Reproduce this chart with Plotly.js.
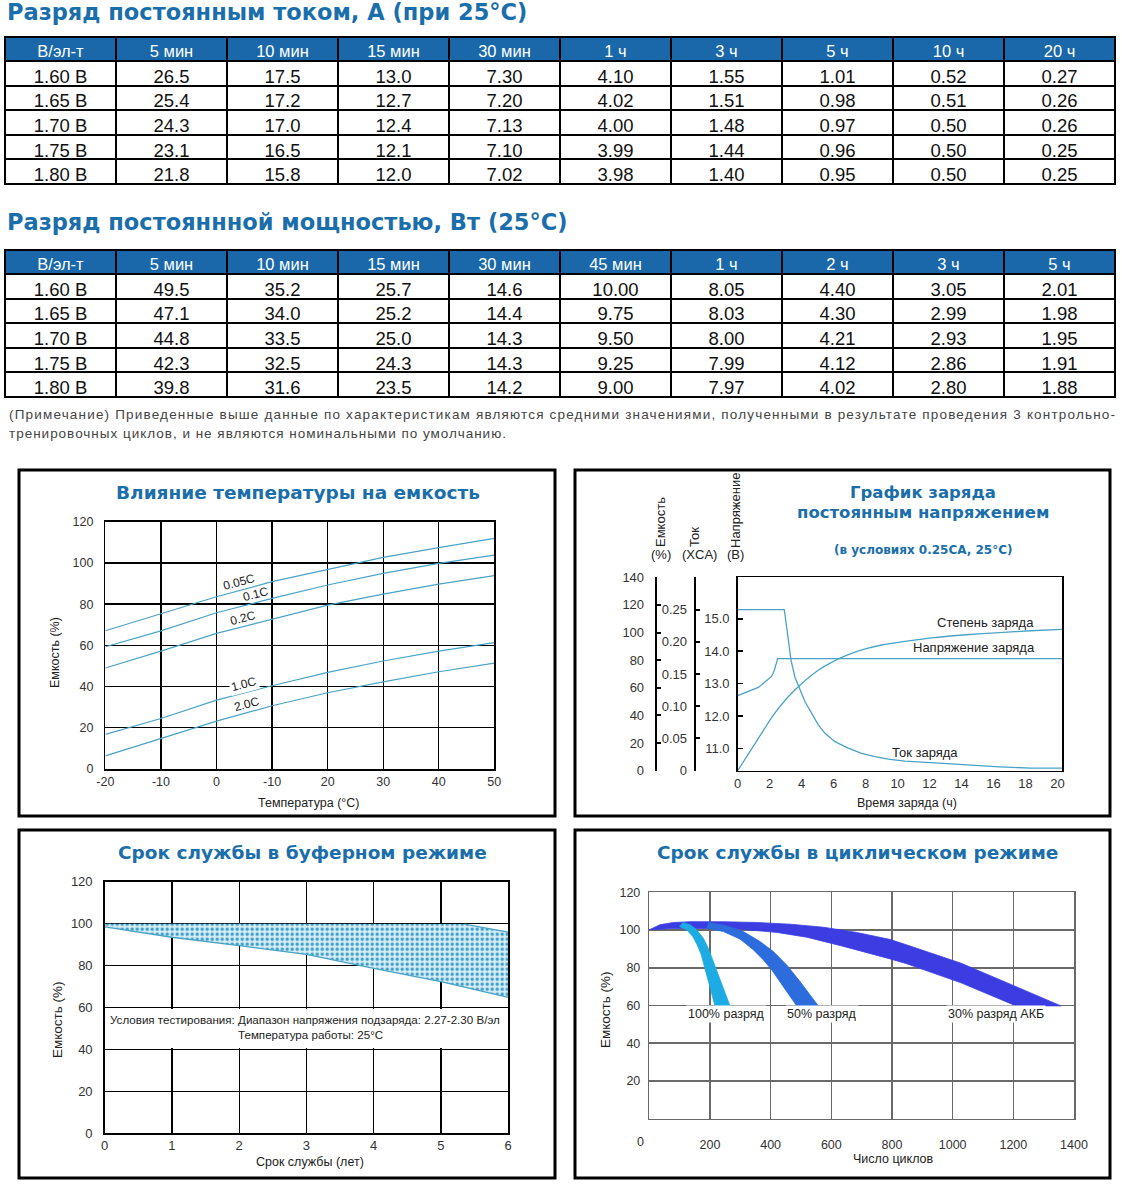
<!DOCTYPE html>
<html><head><meta charset="utf-8">
<script src="https://cdn.plot.ly/plotly-3.0.1.min.js"></script>
<style>html,body{margin:0;padding:0;background:#fff;}#chart{width:1122px;height:1191px;}</style>
</head><body><div id="chart"></div>
<script>
// ---------- DATA ----------
// Table 1: constant current discharge, A (25°C)
const table1Header = ['В/эл-т','5 мин','10 мин','15 мин','30 мин','1 ч','3 ч','5 ч','10 ч','20 ч'];
const voltRows = ['1.60 В','1.65 В','1.70 В','1.75 В','1.80 В'];
const cc_5min  = [26.5,25.4,24.3,23.1,21.8];
const cc_10min = [17.5,17.2,17.0,16.5,15.8];
const cc_15min = [13.0,12.7,12.4,12.1,12.0];
const cc_30min = [7.30,7.20,7.13,7.10,7.02];
const cc_1h    = [4.10,4.02,4.00,3.99,3.98];
const cc_3h    = [1.55,1.51,1.48,1.44,1.40];
const cc_5h    = [1.01,0.98,0.97,0.96,0.95];
const cc_10h   = [0.52,0.51,0.50,0.50,0.50];
const cc_20h   = [0.27,0.26,0.26,0.25,0.25];
// Table 2: constant power discharge, W (25°C)
const table2Header = ['В/эл-т','5 мин','10 мин','15 мин','30 мин','45 мин','1 ч','2 ч','3 ч','5 ч'];
const cp_5min  = [49.5,47.1,44.8,42.3,39.8];
const cp_10min = [35.2,34.0,33.5,32.5,31.6];
const cp_15min = [25.7,25.2,25.0,24.3,23.5];
const cp_30min = [14.6,14.4,14.3,14.3,14.2];
const cp_45min = [10.00,9.75,9.50,9.25,9.00];
const cp_1h    = [8.05,8.03,8.00,7.99,7.97];
const cp_2h    = [4.40,4.30,4.21,4.12,4.02];
const cp_3h    = [3.05,2.99,2.93,2.86,2.80];
const cp_5h    = [2.01,1.98,1.95,1.91,1.88];

// Chart 1: temperature vs capacity
const tempC = [-20,-10,0,10,20,30,40,50];
const tempTickText = ['-20','-10','0','-10','20','30','40','50'];
const cap005C = [67.1,75.2,83.6,90.9,96.9,102.7,107.4,111.9];
const cap01C  = [59.3,67.0,75.8,82.8,89.3,94.9,99.8,103.8];
const cap02C  = [49.0,57.2,65.8,72.8,79.5,84.9,89.7,93.8];
const cap10C  = [16.8,24.5,33.4,40.4,46.9,52.4,57.2,61.3];
const cap20C  = [6.4,14.8,23.2,30.7,37.0,42.3,47.2,51.4];

// Chart 2: constant voltage charge
const timeCurrent = [0,2.91,3.06,3.21,3.33,3.58,3.89,4.21,4.63,5.04,5.46,6.08,6.91,7.75,8.58,9.41,10.46,12.29,14.28,16.37,18.33,20.28];
const chargeCurrent = [0.25,0.25,0.223,0.192,0.172,0.145,0.127,0.107,0.089,0.071,0.058,0.045,0.035,0.027,0.022,0.018,0.015,0.012,0.009,0.006,0.004,0.004];
const timeVoltage = [0,1.29,2.12,2.29,2.5,20.28];
const chargeVoltage = [12.63,12.88,13.22,13.41,13.77,13.77];
const timeCapacity = [0,1.09,2.23,3.06,3.89,5.04,6.33,7.33,8.16,9.0,10.46,12.29,14.28,16.37,18.33,20.28];
const chargeCapacity = [0,19.8,40.2,52.3,61.9,72.7,81.1,85.9,88.8,91.0,93.6,96.4,98.4,99.9,101.3,102.3];

// Chart 3: float service life
const floatYearsLow = [0,1,2,3,4,5,6];
const floatCapLow   = [98.5,93.5,89.5,85.3,78.7,72.3,64.8];
const floatYearsHigh = [0,5.35,6];
const floatCapHigh   = [100,99.8,96.0];

// Chart 4: cycle life
const c30UpperX = [0,35,79,134,244,354,464,574,684,794,849,1028,1209,1357];
const c30UpperY = [100.1,102.8,104.0,104.4,104.4,104.0,103.1,101.5,98.7,95.0,92.1,82.4,70.0,59.8];
const c30LowerX = [0,79,189,299,422,519,634,794,849,1028,1209];
const c30LowerY = [100.1,100.8,100.8,100.5,98.7,96.2,91.6,84.7,82.1,72.0,59.8];
const c50RightX = [194.6,255.1,310,365,408.8,452.9,496.8,529.8,557.1];
const c50RightY = [104.0,102.2,99.2,93.9,88.6,81.5,72.7,65.6,59.8];
const c50LeftX  = [189.2,244.0,299,342.8,375.8,403.3,441.7,485.9];
const c50LeftY  = [101.0,99.2,95.2,89.5,84.2,78.9,70.0,59.8];
const c100RightX = [110.1,134.2,156.3,178.0,194.5,209,222.2,238.7,252.8,266];
const c100RightY = [104.0,102.8,100.1,95.7,90.4,84.2,78.0,70.9,64.7,59.8];
const c100LeftX  = [98.9,123.3,143.1,158.2,171.4,182.6,194.5,205.7,216.6];
const c100LeftY  = [101.9,100.1,96.6,92.1,86.8,80.1,73.6,66.5,59.8];

// ---------- HELPERS / STYLE ----------
const W = 1122, H = 1191;
const px = v => v / W;
const py = v => 1 - v / H;
const FONT = 'Liberation Sans, Arial, sans-serif';
const TFONT = 'DejaVu Sans, Liberation Sans, sans-serif';
const TITLE_BLUE = '#1a6eab';
const HEAD_BLUE = '#1a68a9';
const CURVE = '#4aa3c6';
const fmt = (a, d) => a.map(v => v.toFixed(d));
const poly = (ax, ay, bx, by) => ({x: ax.concat(bx.slice().reverse()), y: ay.concat(by.slice().reverse())});

const t1Cells = [voltRows, fmt(cc_5min,1), fmt(cc_10min,1), fmt(cc_15min,1), fmt(cc_30min,2), fmt(cc_1h,2), fmt(cc_3h,2), fmt(cc_5h,2), fmt(cc_10h,2), fmt(cc_20h,2)];
const t2Cells = [voltRows, fmt(cp_5min,1), fmt(cp_10min,1), fmt(cp_15min,1), fmt(cp_30min,1), fmt(cp_45min,2), fmt(cp_1h,2), fmt(cp_2h,2), fmt(cp_3h,2), fmt(cp_5h,2)];

function table(header, cells, top, bottom) {
  return {
    type: 'table',
    domain: {x: [px(5), px(1115)], y: [py(bottom), py(top)]},
    columnwidth: header.map(() => 1),
    header: {values: header, fill: {color: HEAD_BLUE}, align: 'center', height: 24,
      font: {family: FONT, size: 16.5, color: '#fff'}, line: {color: '#000', width: 2}},
    cells: {values: cells, fill: {color: '#fff'}, align: 'center', height: 24.6,
      font: {family: FONT, size: 18.5, color: '#111'}, line: {color: '#000', width: 2}}
  };
}

const traces = [
  table(table1Header, t1Cells, 37, 192),
  table(table2Header, t2Cells, 250, 404)
];

// Chart 1 lines
[cap005C, cap01C, cap02C, cap10C, cap20C].forEach(arr => traces.push({
  type: 'scatter', mode: 'lines', x: tempC, y: arr, xaxis: 'x', yaxis: 'y',
  line: {color: CURVE, width: 1.2}, hoverinfo: 'skip'
}));

// Chart 2 lines
traces.push({type: 'scatter', mode: 'lines', x: timeVoltage, y: chargeVoltage, xaxis: 'x2', yaxis: 'y2',
  line: {color: CURVE, width: 1.3}, hoverinfo: 'skip'});
traces.push({type: 'scatter', mode: 'lines', x: timeCapacity, y: chargeCapacity, xaxis: 'x2', yaxis: 'y5',
  line: {color: CURVE, width: 1.3, shape: 'spline', smoothing: 0.6}, hoverinfo: 'skip'});
traces.push({type: 'scatter', mode: 'lines', x: timeCurrent, y: chargeCurrent, xaxis: 'x2', yaxis: 'y6',
  line: {color: CURVE, width: 1.3}, hoverinfo: 'skip'});

// Chart 3 band
const fb = poly(floatYearsHigh, floatCapHigh, floatYearsLow, floatCapLow);
traces.push({type: 'scatter', mode: 'lines', x: fb.x, y: fb.y, xaxis: 'x3', yaxis: 'y3', fill: 'toself',
  fillcolor: '#cfe9f4', fillpattern: {shape: '.', fgcolor: '#3a9cca', bgcolor: '#d6edf6', size: 5, solidity: 0.35},
  line: {width: 0}, hoverinfo: 'skip'});
traces.push({type: 'scatter', mode: 'lines', x: floatYearsLow, y: floatCapLow, xaxis: 'x3', yaxis: 'y3',
  line: {color: CURVE, width: 1.3}, hoverinfo: 'skip'});
traces.push({type: 'scatter', mode: 'lines', x: floatYearsHigh.slice(1), y: floatCapHigh.slice(1), xaxis: 'x3', yaxis: 'y3',
  line: {color: CURVE, width: 1.3}, hoverinfo: 'skip'});

// Chart 4 bands
const b30 = poly(c30UpperX, c30UpperY, c30LowerX, c30LowerY);
const b50 = poly(c50RightX, c50RightY, c50LeftX, c50LeftY);
const b100 = poly(c100RightX, c100RightY, c100LeftX, c100LeftY);
[[b30, '#3b3de2'], [b50, '#2c6cdc'], [b100, '#1cabe2']].forEach(([b, c]) => traces.push({
  type: 'scatter', mode: 'lines', x: b.x, y: b.y, xaxis: 'x4', yaxis: 'y4', fill: 'toself',
  fillcolor: c, line: {color: c, width: 0.8}, hoverinfo: 'skip'
}));

// ---------- AXES ----------
const tickF = {family: FONT, size: 12.5, color: '#333'};
const gridAx = {showgrid: true, gridcolor: '#000', gridwidth: 1.3, showline: true, mirror: true,
  linecolor: '#000', linewidth: 1.5, zeroline: false, ticks: '', tickfont: tickF, fixedrange: true};
const grayAx = Object.assign({}, gridAx, {gridcolor: '#6a6a6a', linecolor: '#6a6a6a', gridwidth: 1.5});

const layout = {
  width: W, height: H, margin: {l: 0, r: 0, t: 0, b: 0},
  paper_bgcolor: '#fff', plot_bgcolor: 'rgba(0,0,0,0)', showlegend: false,
  font: {family: FONT, color: '#222'},
  xaxis: Object.assign({}, gridAx, {domain: [px(105.4), px(494.3)], range: [-20, 50], tickvals: tempC, ticktext: tempTickText, anchor: 'y'}),
  yaxis: Object.assign({}, gridAx, {domain: [py(769), py(521.7)], range: [0, 120], dtick: 20, anchor: 'x', ticklabelstandoff: 8}),
  xaxis2: {domain: [px(737.7), px(1062)], range: [0, 20.28], tickvals: [0,2,4,6,8,10,12,14,16,18,20], anchor: 'y2',
    showgrid: false, showline: true, mirror: true, linecolor: '#000', linewidth: 1.5, ticks: '', zeroline: false,
    tickfont: {family: FONT, size: 13, color: '#333'}, fixedrange: true},
  yaxis2: {domain: [py(770.7), py(577.3)], range: [10.31, 16.28], tickvals: [11,12,13,14,15],
    ticktext: ['11.0','12.0','13.0','14.0','15.0'], anchor: 'x2', showgrid: false, zeroline: false,
    showline: true, mirror: true, linecolor: '#000', linewidth: 1.5, ticks: 'inside', ticklen: 5, tickwidth: 1.5,
    tickcolor: '#000', tickfont: {family: FONT, size: 13, color: '#333'}, ticklabelstandoff: 4, fixedrange: true},
  yaxis5: {overlaying: 'y2', anchor: 'free', position: px(655.7), side: 'left', range: [0, 140], dtick: 20, tick0: 0,
    showgrid: false, zeroline: false, showline: true, linecolor: '#000', linewidth: 2, ticks: 'inside', ticklen: 4,
    tickwidth: 2, tickcolor: '#000', tickfont: {family: FONT, size: 13, color: '#333'}, ticklabelstandoff: 8, fixedrange: true},
  yaxis6: {overlaying: 'y2', anchor: 'free', position: px(694.7), side: 'left', range: [0, 0.30],
    tickvals: [0,0.05,0.10,0.15,0.20,0.25,0.30], ticktext: ['0','0.05','0.10','0.15','0.20','0.25',''],
    showgrid: false, zeroline: false, showline: true, linecolor: '#000', linewidth: 2, ticks: 'inside', ticklen: 4,
    tickwidth: 2, tickcolor: '#000', tickfont: {family: FONT, size: 13, color: '#333'}, ticklabelstandoff: 4, fixedrange: true},
  xaxis3: Object.assign({}, gridAx, {domain: [px(104.7), px(508.2)], range: [0, 6], dtick: 1, anchor: 'y3', tickfont: {family: FONT, size: 13, color: '#333'}}),
  yaxis3: Object.assign({}, gridAx, {domain: [py(1133.3), py(881.7)], range: [0, 120], dtick: 20, anchor: 'x3', ticklabelstandoff: 8, tickfont: {family: FONT, size: 13, color: '#333'}}),
  xaxis4: Object.assign({}, grayAx, {domain: [px(649.3), px(1074)], range: [0, 1400], tickvals: [200,400,600,800,1000,1200,1400], anchor: 'y4', ticklabelstandoff: 14}),
  yaxis4: Object.assign({}, grayAx, {domain: [py(1118.7), py(892.3)], range: [0, 120], tickvals: [20,40,60,80,100,120], anchor: 'x4', ticklabelstandoff: 5}),
  shapes: [
    {type: 'rect', xref: 'paper', yref: 'paper', x0: px(19), x1: px(555), y0: py(470), y1: py(816), line: {color: '#000', width: 3}},
    {type: 'rect', xref: 'paper', yref: 'paper', x0: px(575), x1: px(1110), y0: py(470), y1: py(816), line: {color: '#000', width: 3}},
    {type: 'rect', xref: 'paper', yref: 'paper', x0: px(19), x1: px(555), y0: py(830), y1: py(1178), line: {color: '#000', width: 3}},
    {type: 'rect', xref: 'paper', yref: 'paper', x0: px(575), x1: px(1110), y0: py(830), y1: py(1178), line: {color: '#000', width: 3}},
    {type: 'rect', xref: 'x3', yref: 'y3', x0: 0, x1: 6, y0: 40.7, y1: 59.3, layer: 'between', fillcolor: '#fff', line: {width: 0}}
  ],
  annotations: []
};

const A = layout.annotations;
function txt(text, x, y, o) {
  A.push(Object.assign({text: text, xref: 'paper', yref: 'paper', x: px(x), y: py(y), showarrow: false,
    xanchor: 'center', yanchor: 'middle', font: {family: FONT, size: 12.5, color: '#222'}}, o || {}));
}
// Section titles
const secF = {family: TFONT, size: 22.5, color: TITLE_BLUE, weight: 'bold'};
txt('Разряд постоянным током, А (при 25°C)', 5, 12, {xanchor: 'left', font: secF});
txt('Разряд постояннной мощностью, Вт (25°C)', 5, 222, {xanchor: 'left', font: secF});
txt('(Примечание) Приведенные выше данные по характеристикам являются средними значениями, полученными в результате проведения 3 контрольно-', 7, 414, {xanchor: 'left', align: 'left', font: {family: FONT, size: 13.5, color: '#444'}});
txt('тренировочных циклов, и не являются номинальными по умолчанию.', 7, 434, {xanchor: 'left', align: 'left', font: {family: FONT, size: 13.5, color: '#444'}});

// Chart titles
const ct = {family: TFONT, size: 18.5, color: TITLE_BLUE, weight: 'bold'};
const ct2 = {family: TFONT, size: 16.5, color: TITLE_BLUE, weight: 'bold'};
txt('Влияние температуры на емкость', 298, 492, {font: ct});
txt('График заряда', 923, 492, {font: ct2});
txt('постоянным напряжением', 923, 512, {font: ct2});
txt('(в условиях 0.25CA, 25°C)', 923, 550, {font: {family: TFONT, size: 12, color: TITLE_BLUE, weight: 'bold'}});
txt('Срок службы в буферном режиме', 302, 852, {font: ct});
txt('Срок службы в циклическом режиме', 858, 852, {font: ct});

// Axis titles
txt('Емкость (%)', 55, 653, {textangle: -90});
txt('Температура (°C)', 309, 803);
txt('Время заряда (ч)', 907, 803);
txt('Емкость', 660, 522, {textangle: -90, font: {family: FONT, size: 13, color: '#222'}});
txt('(%)', 661, 555, {font: {family: FONT, size: 13, color: '#222'}});
txt('Ток', 694, 537, {textangle: -90, font: {family: FONT, size: 13, color: '#222'}});
txt('(XCA)', 699, 555, {font: {family: FONT, size: 13, color: '#222'}});
txt('Напряжение', 735, 511, {textangle: -90, font: {family: FONT, size: 13, color: '#222'}});
txt('(В)', 735, 555, {font: {family: FONT, size: 13, color: '#222'}});
txt('Емкость (%)', 58, 1020, {textangle: -90, font: {family: FONT, size: 13.5, color: '#222'}});
txt('Срок службы (лет)', 310, 1162);
txt('Емкость (%)', 605, 1010, {textangle: -90, font: {family: FONT, size: 13.5, color: '#222'}});
txt('Число циклов', 893, 1159);
txt('0', 640, 1142, {font: tickF});

// Chart 3 conditions
txt('Условия тестирования: Диапазон напряжения подзаряда: 2.27-2.30 В/эл', 305, 1019, {font: {family: FONT, size: 11.6, color: '#222'}});
txt('Температура работы: 25°C', 310, 1034, {font: {family: FONT, size: 11.6, color: '#222'}});

// Chart 4 labels
txt('100% разряд', 726, 1014, {bgcolor: '#fff', font: {family: FONT, size: 12.5, color: '#222'}});
txt('50% разряд', 822, 1014, {bgcolor: '#fff', font: {family: FONT, size: 12.5, color: '#222'}});
txt('30% разряд АКБ', 996, 1014, {bgcolor: '#fff', font: {family: FONT, size: 12.5, color: '#222'}});

// Chart 1 curve labels (data coordinates)
[['0.05C', 4.1, 90.6, false], ['0.1C', 7.1, 84.7, false], ['0.2C', 4.8, 73.4, false], ['1.0C', 5.0, 41.1, true], ['2.0C', 5.5, 31.4, false]]
  .forEach(([t, x, y, bg]) => A.push({text: t, xref: 'x', yref: 'y', x: x, y: y, showarrow: false, textangle: -15,
    bgcolor: bg ? '#fff' : 'rgba(0,0,0,0)', font: {family: FONT, size: 12, color: '#222'}}));

// Chart 2 curve labels
[['Степень заряда', 15.5, 107.5], ['Напряжение заряда', 14.8, 89.1], ['Ток заряда', 11.7, 13.3]]
  .forEach(([t, x, y]) => A.push({text: t, xref: 'x2', yref: 'y5', x: x, y: y, showarrow: false,
    font: {family: FONT, size: 13, color: '#222'}}));

Plotly.newPlot('chart', traces, layout, {staticPlot: true, displayModeBar: false}).then(gd => {
  gd.querySelectorAll('.annotation-text').forEach(t => {
    const s = t.textContent;
    if (s.indexOf('(Примечание)') === 0) {
      t.setAttribute('textLength', '1106');
      t.setAttribute('lengthAdjust', 'spacing');
    } else if (s.indexOf('тренировочных') === 0) {
      t.setAttribute('textLength', '497');
      t.setAttribute('lengthAdjust', 'spacing');
    }
  });
});
</script></body></html>
